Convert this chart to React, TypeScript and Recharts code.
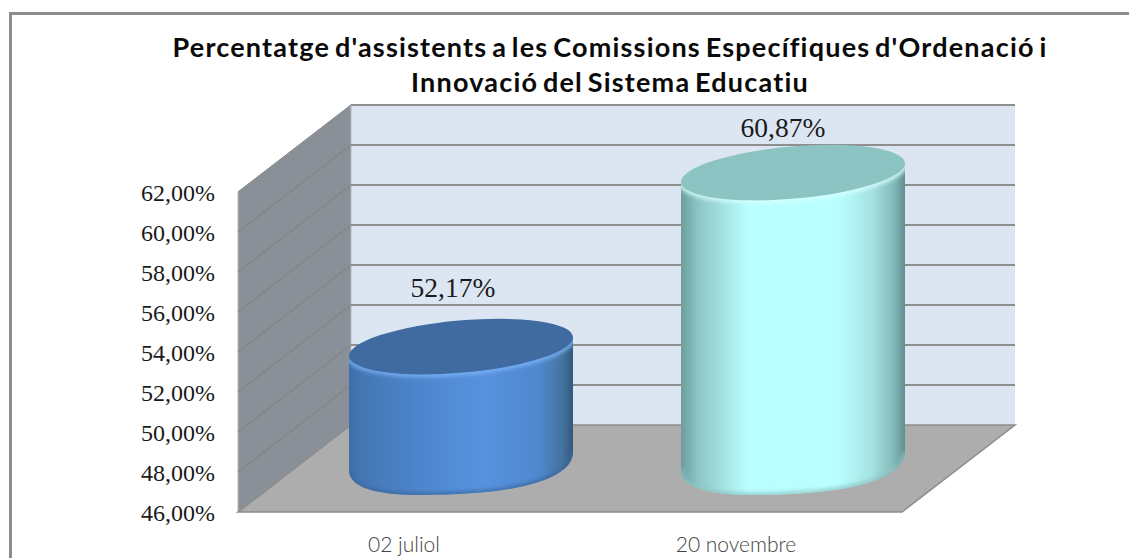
import React from 'react';
import { ComposedChart, Bar, XAxis, YAxis, CartesianGrid, LabelList } from 'recharts';

const categories = ['02 juliol', '20 novembre'];
const percentages = [52.17, 60.87];
const yTicks = [46, 48, 50, 52, 54, 56, 58, 60, 62];
const titleLines = [
  "Percentatge d'assistents a les Comissions Específiques d'Ordenació i",
  'Innovació del Sistema Educatiu',
];

const rows = categories.map((category, i) => ({ category, value: percentages[i] }));

const W = 1129, H = 558;
const PL = 238, PR = 902, PT = 192, PB = 512;
const DX = 113, DY = 87;
const BAR_W = 224, SHIFT_X = 57, TOP_SHIFT = -42, BASE_SHIFT = -51;
const RY = 26, TILT = 5;
const LABEL_OFFSETS = [[-8, -101], [-10, -87]];
const pct = (v: number) => v.toFixed(2).replace('.', ',') + '%';

function gridLine(props: any) {
  const { y1, index } = props;
  const y = Number(y1);
  return (
    <g key={`g-${index}`}>
      {index === 0 && (
        <g>
          <polygon points={`${PL + DX},${PT - DY} ${PR + DX},${PT - DY} ${PR + DX},${PB - DY} ${PL + DX},${PB - DY}`} fill="#dce6f2" />
          <polygon points={`${PL},${PT} ${PL + DX},${PT - DY} ${PL + DX},${PB - DY} ${PL},${PB}`} fill="#8a9097" stroke="#b5b9bd" strokeWidth={1} />
          <polygon points={`${PL},${PB} ${PR},${PB} ${PR + DX},${PB - DY} ${PL + DX},${PB - DY}`} fill="#adadad" stroke="#8c8c8c" strokeWidth={1.5} />
        </g>
      )}
      {y < PB - 1 && <line x1={PL} y1={y} x2={PL + DX} y2={y - DY} stroke="#7e8080" strokeWidth={1} />}
      {y < PB - 1 && <line x1={PL + DX} y1={y - DY} x2={PR + DX} y2={y - DY} stroke="#8e8e8e" strokeWidth={2} />}
    </g>
  );
}

function Cylinder(props: any) {
  const { x, y, width, index } = props;
  const cx = x + width / 2 + SHIFT_X;
  const a = width / 2;
  const dy = a * Math.sin((TILT * Math.PI) / 180);
  const topY = y + TOP_SHIFT;
  const baseY = PB + BASE_SHIFT;
  const lower = `C${cx - a},${baseY + 27} ${cx - a * 0.75},${baseY + 34} ${cx - 40},${baseY + 34} C${cx + 60},${baseY + 34} ${cx + a},${baseY + 17} ${cx + a},${baseY - 9}`;
  const body = `M${cx - a},${topY + dy} L${cx - a},${baseY + 9} ${lower} L${cx + a},${topY - dy} L${cx - a},${topY + dy} Z`;
  const id = `cyl${index}`;
  const top = `M${cx - a},${topY + dy} A${a},${RY} ${-TILT} 1 1 ${cx + a},${topY - dy} A${a},${RY} ${-TILT} 1 1 ${cx - a},${topY + dy} Z`;
  return (
    <g>
      <clipPath id={`${id}c`}><path d={body} /></clipPath>
      <path d={body} fill={`url(#${id}b)`} />
      <g clipPath={`url(#${id}c)`}>
        <path d={`M${cx - a},${topY + dy} A${a},${RY} ${-TILT} 0 0 ${cx + a},${topY - dy}`} fill="none" stroke={index === 0 ? '#79b2f5' : '#d8ffff'} strokeWidth={5} filter="url(#soft)" />
        <path d={`M${cx - a},${baseY + 9} ${lower}`} fill="none" stroke={index === 0 ? '#3a689e' : '#8cc4c4'} strokeWidth={4} filter="url(#soft)" />
      </g>
      <path d={top} fill={index === 0 ? '#3f6ba0' : '#8cc3c3'} />
    </g>
  );
}

function Gradients() {
  return (
    <defs>
      <linearGradient id="cyl0b" x1="0" x2="1" y1="0" y2="0">
        <stop offset="0" stopColor="#3d6ea8" />
        <stop offset="0.05" stopColor="#4476b3" />
        <stop offset="0.35" stopColor="#4f88d0" />
        <stop offset="0.6" stopColor="#5792de" />
        <stop offset="0.85" stopColor="#5088cf" />
        <stop offset="0.95" stopColor="#44749f" />
        <stop offset="1" stopColor="#33587f" />
      </linearGradient>
      <linearGradient id="cyl1b" x1="0" x2="1" y1="0" y2="0">
        <stop offset="0" stopColor="#6d9d9d" />
        <stop offset="0.08" stopColor="#8fc6c6" />
        <stop offset="0.3" stopColor="#baffff" />
        <stop offset="0.7" stopColor="#baffff" />
        <stop offset="0.85" stopColor="#a6e3e3" />
        <stop offset="0.95" stopColor="#83b8b8" />
        <stop offset="1" stopColor="#608f8f" />
      </linearGradient>
      <filter id="soft" x="-5%" y="-50%" width="110%" height="200%">
        <feGaussianBlur stdDeviation="2" />
      </filter>
    </defs>
  );
}

function renderValue(props: any) {
  const { x, y, width, index, value } = props;
  const [ox, oy] = LABEL_OFFSETS[index];
  return (
    <text x={x + width / 2 + SHIFT_X + ox} y={y + oy} textAnchor="middle" dominantBaseline="central" fontFamily="'Liberation Serif', serif" fontSize={27.5} fill="#1a1a1a">
      {pct(Number(value))}
    </text>
  );
}

export default function App() {
  return (
    <div style={{ position: 'absolute', left: 0, top: 0, width: W, height: H, background: '#fff', overflow: 'hidden' }}>
      <div style={{ position: 'absolute', left: 9, top: 12, width: W, height: H, border: '3px solid #8c8c8c', boxSizing: 'border-box' }} />
      {titleLines.map((line, i) => (
        <div key={line} style={{ position: 'absolute', left: 0, width: 1220, top: 29 + i * 35, textAlign: 'center', fontFamily: 'Lato, sans-serif', fontWeight: 700, fontSize: 27, lineHeight: '36px', letterSpacing: 1.2, wordSpacing: -3, color: '#0a0a0a', whiteSpace: 'nowrap' }}>
          {line}
        </div>
      ))}
      <ComposedChart
        width={W}
        height={H}
        data={rows}
        margin={{ top: PT, bottom: H - PB - 40, left: PL - 80, right: W - PR }}
        style={{ position: 'absolute', left: 0, top: 0 }}
      >
        <Gradients />
        <CartesianGrid vertical={false} horizontal={gridLine as any} />
        <XAxis
          dataKey="category"
          height={40}
          axisLine={false}
          tickLine={false}
          tickMargin={19}
          tick={{ fontFamily: 'Lato, sans-serif', fontWeight: 300, fontSize: 21, fill: '#444' }}
        />
        <YAxis
          width={80}
          domain={[46, 62]}
          ticks={yTicks}
          interval={0}
          axisLine={false}
          tickLine={false}
          tickSize={0}
          tickMargin={23}
          tickFormatter={pct}
          tick={{ fontFamily: "'Liberation Serif', serif", fontSize: 24, fill: '#1a1a1a' }}
        />
        <Bar dataKey="value" barSize={BAR_W} isAnimationActive={false} shape={Cylinder as any}>
          <LabelList dataKey="value" content={renderValue as any} />
        </Bar>
      </ComposedChart>
    </div>
  );
}
